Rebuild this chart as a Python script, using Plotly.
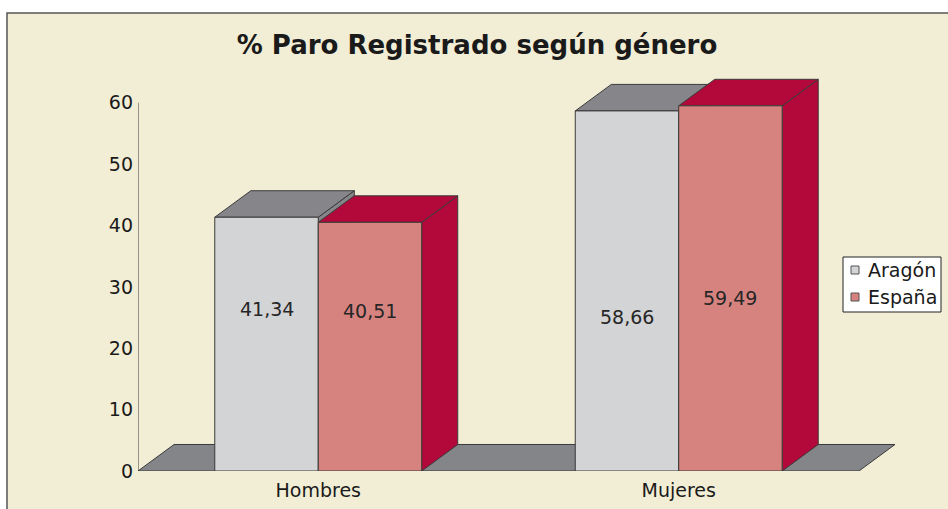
import plotly.graph_objects as go

categories = ["Hombres", "Mujeres"]
aragon = [41.34, 58.66]
espana = [40.51, 59.49]
series_names = ["Aragón", "España"]
y_ticks = [0, 10, 20, 30, 40, 50, 60]

W, H = 948, 509
ML, MR, MT, MB = 138, 53, 72, 38
XR = [-0.5, 1.6]
YR = [0, 65]
BAR_W = 0.287
DX, DY = 0.1, 4.32

BG = "#F2EED6"
EDGE = "#3a3a3a"
front_cols = ["#D3D4D6", "#D6837F"]
dark_cols = ["#86868A", "#B2083A"]
FONT = "DejaVu Sans"

def fmt(v):
    return f"{v:.2f}".replace(".", ",")

fig = go.Figure()
values = [aragon, espana]
offsets = [-BAR_W, 0.0]
xs = list(range(len(categories)))

for s in range(2):
    fig.add_trace(go.Bar(
        x=xs, y=values[s], width=BAR_W, offset=offsets[s], name=series_names[s],
        marker=dict(color=front_cols[s], line=dict(color=EDGE, width=1)),
        showlegend=False, hoverinfo="skip"))

def poly(pts):
    return "M " + " L ".join(f"{x},{y}" for x, y in pts) + " Z"

pw, ph = W - ML - MR, H - MT - MB
def px2paper(px, py):
    return (px - ML) / pw, (H - MB - py) / ph

shapes = []
# outer border / chart background
bx0, by0 = px2paper(7, 13)
bx1, by1 = px2paper(W + 30, H + 30)
shapes.append(dict(type="rect", xref="paper", yref="paper", layer="below",
                   x0=bx0, y0=by1, x1=bx1, y1=by0,
                   fillcolor=BG, line=dict(color="#555555", width=1.5)))
# floor
x0, x1 = XR[0], len(categories) - 0.5
shapes.append(dict(type="path", xref="x", yref="y", layer="below",
                   path=poly([(x0, 0), (x1, 0), (x1 + DX, DY), (x0 + DX, DY)]),
                   fillcolor="#848589", line=dict(color=EDGE, width=1)))
for s in range(2):
    for i, v in enumerate(values[s]):
        l = i + offsets[s]
        r = l + BAR_W
        shapes.append(dict(type="path", xref="x", yref="y", layer="below",
                           path=poly([(r, 0), (r + DX, DY), (r + DX, v + DY), (r, v)]),
                           fillcolor=dark_cols[s], line=dict(color=EDGE, width=1)))
        shapes.append(dict(type="path", xref="x", yref="y", layer="below",
                           path=poly([(l, v), (r, v), (r + DX, v + DY), (l + DX, v + DY)]),
                           fillcolor=dark_cols[s], line=dict(color=EDGE, width=1)))
# y axis line
shapes.append(dict(type="line", xref="x", yref="y", x0=XR[0], x1=XR[0], y0=0, y1=y_ticks[-1],
                   line=dict(color=EDGE, width=1)))

annotations = []
label_shift = [[35, 36], [-26, -10]]
for s in range(2):
    for i, v in enumerate(values[s]):
        annotations.append(dict(x=i + offsets[s] + BAR_W / 2, y=v / 2, xref="x", yref="y",
                                text=fmt(v), showarrow=False, yshift=label_shift[i][s],
                                font=dict(family=FONT, size=19, color="#262626")))

# legend (box, swatches, labels)
lx0, ly0 = px2paper(843, 257)
lx1, ly1 = px2paper(941, 312)
shapes.append(dict(type="rect", xref="paper", yref="paper", layer="below",
                   x0=lx0, y0=ly1, x1=lx1, y1=ly0, fillcolor="white",
                   line=dict(color="#222222", width=1)))
for s in range(2):
    cy = 270 + 27 * s
    sx0, sy0 = px2paper(851, cy - 4)
    sx1, sy1 = px2paper(859, cy + 4)
    shapes.append(dict(type="rect", xref="paper", yref="paper", layer="below",
                       x0=sx0, y0=sy1, x1=sx1, y1=sy0, fillcolor=front_cols[s],
                       line=dict(color="#555555", width=1)))
    tx, ty = px2paper(866, cy)
    annotations.append(dict(x=tx, y=ty, xref="paper", yref="paper", xanchor="left",
                            yanchor="middle", text=series_names[s], showarrow=False,
                            font=dict(family=FONT, size=19, color="#1a1a1a")))

fig.update_layout(
    width=W, height=H, margin=dict(l=ML, r=MR, t=MT, b=MB, autoexpand=False),
    paper_bgcolor="white", plot_bgcolor="rgba(0,0,0,0)",
    barmode="overlay", showlegend=False,
    title=dict(text="<b>% Paro Registrado según género</b>", x=477 / W, xanchor="center",
               y=1 - 45 / H, yanchor="middle",
               font=dict(family=FONT, size=26, color="#1a1a1a")),
    xaxis=dict(range=XR, tickvals=xs, ticktext=categories, showgrid=False, zeroline=False,
               showline=False, ticks="", ticklabelstandoff=6, automargin=False,
               tickfont=dict(family=FONT, size=19, color="#1a1a1a")),
    yaxis=dict(range=YR, tickvals=y_ticks, showgrid=False, zeroline=False, showline=False,
               ticks="", ticklabelstandoff=4, automargin=False,
               tickfont=dict(family=FONT, size=19, color="#1a1a1a")),
    shapes=shapes, annotations=annotations,
)
fig.write_html("out.html", config={"displayModeBar": False},
               post_script="document.body.style.margin='0';")
